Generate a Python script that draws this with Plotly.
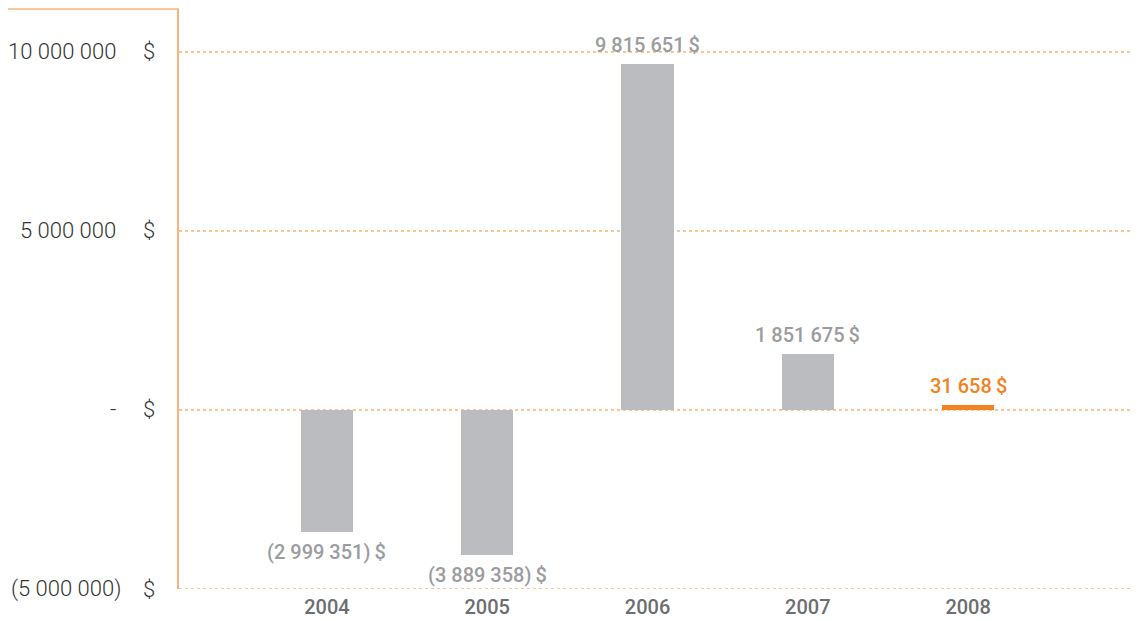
import plotly.graph_objects as go

# ---- data ----
years = ["2004", "2005", "2006", "2007", "2008"]
bar_values = [-3420000, -4060000, 9670000, 1570000, 140000]   # heights as drawn
value_labels = ["(2 999 351)\u2009$", "(3 889 358)\u2009$", "9 815 651\u2009$",
                "1 851 675\u2009$", "31 658\u2009$"]
bar_colors = ["#bbbcc0", "#bbbcc0", "#bbbcc0", "#bbbcc0", "#f58220"]
label_colors = ["#9b9ca0", "#9b9ca0", "#9b9ca0", "#9b9ca0", "#f58220"]
y_ticks = [-5000000, 0, 5000000, 10000000]
y_tick_text = ["(5 000 000)", "-", "5 000 000", "10 000 000"]

# page body has an 8px margin; figure is sized/offset to compensate
W, H = 1131, 613
L, R, T, B = 171, 9, 1, 32
PW = W - L - R

fig = go.Figure()

# dotted orange gridlines (drawn below bars)
for v in y_ticks:
    fig.add_shape(type="line", xref="paper", yref="y", x0=0, x1=1, y0=v, y1=v,
                  layer="below", line=dict(color="#f58a2e", width=1, dash="dot"))

fig.add_trace(go.Bar(
    x=years, y=bar_values, marker=dict(color=bar_colors, line=dict(width=0)),
    width=0.325, hoverinfo="skip"))

# value labels
for i, (v, t, c) in enumerate(zip(bar_values, value_labels, label_colors)):
    fig.add_annotation(
        xref="x", yref="y", x=i, y=v, text=t, showarrow=False,
        xanchor="center",
        yanchor="bottom" if v >= 0 else "top",
        yshift=5 if v >= 0 else -6,
        font=dict(family="Roboto", size=20, color=c, weight=500))

# y tick labels (number + $)
def px_to_paper(px):
    return (px - 8 - L) / PW

for v, t in zip(y_ticks, y_tick_text):
    fig.add_annotation(
        xref="paper", yref="y", x=px_to_paper(118), y=v, text=t,
        showarrow=False, xanchor="right", yanchor="middle",
        xshift=5 if v < 0 else 0,
        font=dict(family="Roboto", size=22, color="#333335", weight=300))
    fig.add_annotation(
        xref="paper", yref="y", x=px_to_paper(149), y=v, text="$",
        showarrow=False, xanchor="center", yanchor="middle",
        font=dict(family="Roboto", size=22, color="#333335", weight=300))

# top-left rule
fig.add_shape(type="line", xref="paper", yref="paper",
              x0=-L / PW, x1=0, y0=1, y1=1,
              line=dict(color="#f9b27a", width=1.5))

fig.update_layout(
    width=W, height=H,
    margin=dict(l=L, r=R, t=T, b=B, autoexpand=False),
    paper_bgcolor="white", plot_bgcolor="white",
    showlegend=False,
    bargap=0,
    xaxis=dict(
        type="category", range=[-0.923, 5.01],
        showgrid=False, zeroline=False, showline=False, ticks="",
        tickfont=dict(family="Roboto", size=20, color="#6d6e71", weight=500),
        ticklabelstandoff=4),
    yaxis=dict(
        range=[-5000000, 11200000],
        tickvals=y_ticks, showticklabels=False, ticks="",
        showgrid=False, zeroline=False,
        showline=True, linecolor="#f9b27a", linewidth=1.5),
)

fig.write_html("out.html")
